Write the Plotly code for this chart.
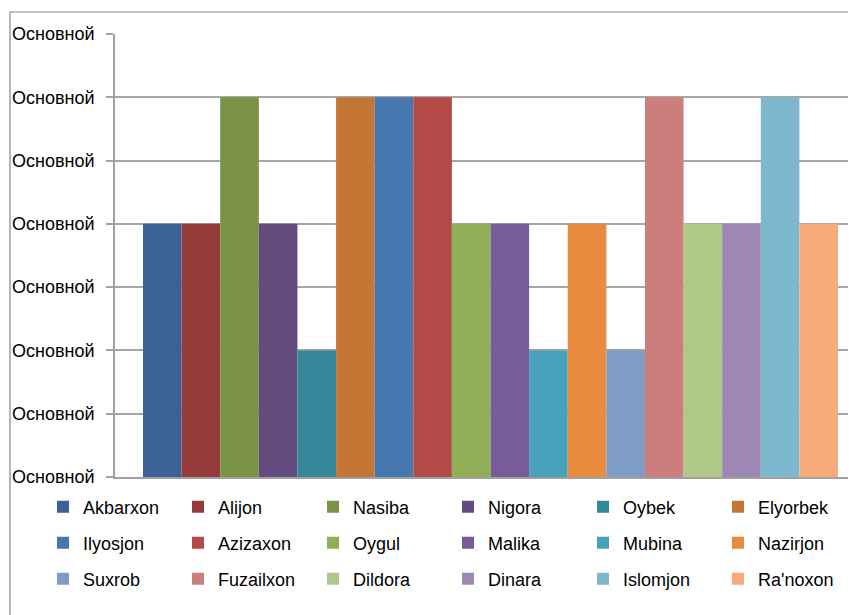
import plotly.graph_objects as go

names = ["Akbarxon", "Alijon", "Nasiba", "Nigora", "Oybek", "Elyorbek",
         "Ilyosjon", "Azizaxon", "Oygul", "Malika", "Mubina", "Nazirjon",
         "Suxrob", "Fuzailxon", "Dildora", "Dinara", "Islomjon", "Ra'noxon"]
values = [4, 4, 6, 4, 2, 6,
          6, 6, 4, 4, 2, 4,
          2, 6, 4, 4, 6, 4]
colors = ["#3B6195", "#953C3B", "#7A9344", "#634D7E", "#38869A", "#C47735",
          "#4777AF", "#B34A48", "#90AF54", "#785C99", "#48A2BB", "#E98C40",
          "#7F9BC8", "#CC7E7D", "#AFC787", "#9C88B3", "#7DB8CF", "#F8AA79"]
tick_vals = [0, 1, 2, 3, 4, 5, 6, 7]
tick_text = ["Основной"] * 8

FONT = "Liberation Sans"
W, H = 856, 615
OFF = 8  # page body margin offset of the figure in the browser
# target positions in page pixels
PL, PT, PB = 115, 34, 477
ML, MT = PL - OFF, PT - OFF
MB = H - (PB - OFF)
MR = 0

fig = go.Figure()
legend_ids = ["legend", "legend2", "legend3"]
for i, (n, v, c) in enumerate(zip(names, values, colors)):
    fig.add_trace(go.Bar(x=[0], y=[v], name=n, marker=dict(color=c, line=dict(width=0)),
                         legend=legend_ids[i // 6]))

plot_w = W - ML - MR
plot_h = H - MT - MB
full_w = 751.0
row_y = [507, 543, 579]  # page pixels
leg_x_page = 43
leg_common = dict(orientation="h", xref="paper", yref="paper",
                  x=(leg_x_page - PL) / plot_w, xanchor="left", yanchor="middle",
                  entrywidth=90, entrywidthmode="pixels",
                  font=dict(family=FONT, size=18, color="#000000"),
                  bgcolor="rgba(0,0,0,0)", borderwidth=0, itemwidth=30,
                  traceorder="normal")
layout_legends = {}
for k, lid in enumerate(legend_ids):
    layout_legends[lid] = dict(leg_common, y=(PB - row_y[k]) / plot_h)

fig.update_layout(
    width=W, height=H,
    margin=dict(l=ML, r=MR, t=MT, b=MB, pad=0, autoexpand=False),
    paper_bgcolor="white", plot_bgcolor="white",
    barmode="group", bargap=56 / full_w, bargroupgap=0,
    showlegend=True,
    font=dict(family=FONT, size=18, color="#000000"),
    xaxis=dict(range=[-0.5, -0.5 + plot_w / full_w], showticklabels=False,
               showgrid=False, zeroline=False, showline=True, automargin=False,
               linecolor="#A0A0A0", linewidth=1.5, ticks="", fixedrange=True),
    yaxis=dict(range=[0, 7], tickvals=tick_vals, ticktext=tick_text,
               showgrid=True, gridcolor="#A6A6A6", gridwidth=1.5,
               zeroline=False, showline=True, linecolor="#A0A0A0", linewidth=1.5,
               ticks="outside", ticklen=7, tickcolor="#A0A0A0", tickwidth=1.5,
               ticklabelstandoff=8, automargin=False,
               tickfont=dict(family=FONT, size=18, color="#000000")),
    **layout_legends,
)

# outer chart-area border (partially cropped in the reference)
fig.add_shape(type="rect", xref="paper", yref="paper",
              x0=(10 - PL) / plot_w, x1=1.2,
              y0=-0.6, y1=(PB - 12) / plot_h,
              line=dict(color="#868686", width=1.2), fillcolor="rgba(0,0,0,0)",
              layer="below")

fig.write_html("out.html")
